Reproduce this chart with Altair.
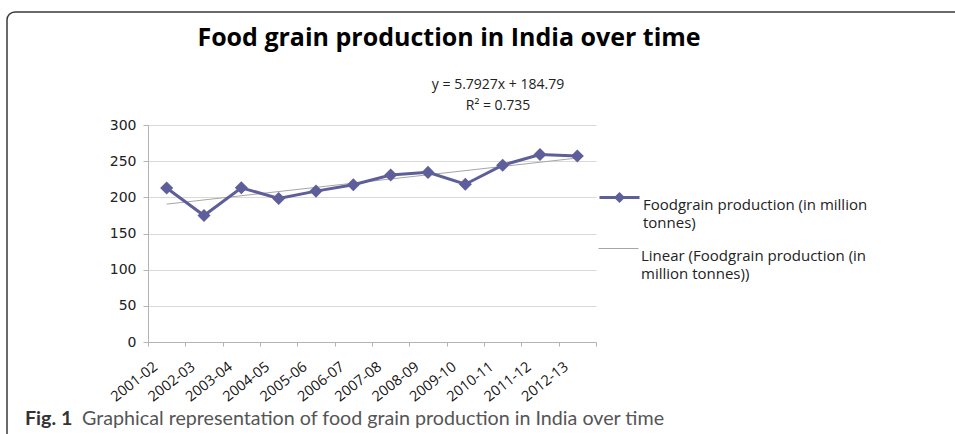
import json
import altair as alt
import pandas as pd

# ---------------- data ----------------
YEARS = ["2001-02", "2002-03", "2003-04", "2004-05", "2005-06", "2006-07",
         "2007-08", "2008-09", "2009-10", "2010-11", "2011-12", "2012-13"]
PRODUCTION = [212.9, 174.8, 213.2, 198.4, 208.6, 217.3,
              230.8, 234.5, 218.1, 244.5, 259.3, 257.1]
Y_TICKS = [0, 50, 100, 150, 200, 250, 300]
SERIES = ["Foodgrain production (in million tonnes)",
          "Linear (Foodgrain production (in million tonnes))"]
LEGEND_LINES = [["Foodgrain production (in million", "tonnes)"],
                ["Linear (Foodgrain production (in", "million tonnes))"]]
TITLE = "Food grain production in India over time"
EQUATION = ["y = 5.7927x + 184.79", "R\u00b2 = 0.735"]
CAPTION_BOLD = "Fig. 1"
CAPTION_TEXT = "Graphical representation of food grain production in India over time"

# ---------------- styling ----------------
W, H = 448, 217
PAD = {"left": 148, "top": 125, "right": 955 - 148 - W, "bottom": 434 - 125 - H}
PURPLE = "#5E5E9A"
TREND = "#A6A6A6"
AXIS = "#B3B3B3"
GRID = "#D9D9D9"

df = pd.DataFrame({
    "year": YEARS,
    "idx": list(range(1, len(YEARS) + 1)),
    "production": PRODUCTION,
    "series": SERIES[0],
})

x_enc = alt.X(
    "year:N", sort=YEARS, bandPosition=0.5,
    scale=alt.Scale(type="band", paddingInner=0, paddingOuter=0),
    axis=alt.Axis(title=None, labelAngle=-38, labelAlign="right", labelBaseline="middle",
                  tickBand="extent", grid=False, domainColor=AXIS, tickColor=AXIS,
                  tickSize=4, labelFont="Open Sans", labelFontSize=14.5,
                  labelColor="#111111", labelPadding=19, labelOffset=-11),
)
y_enc = alt.Y(
    "production:Q",
    scale=alt.Scale(domain=[0, 300], nice=False),
    axis=alt.Axis(title=None, values=Y_TICKS, grid=True, gridColor=GRID,
                  domainColor=AXIS, tickColor=AXIS, tickSize=5,
                  labelFont="DejaVu Sans", labelFontSize=14, labelColor="#222222",
                  labelPadding=7),
)

DIAMOND_LINE = "M-1,0L1,0M0,-0.17L0.17,0L0,0.17L-0.17,0Z"

legend_common = dict(orient="none", legendX=450, title=None, padding=0, symbolSize=1600,
                     labelFont="Open Sans", labelFontSize=15, labelColor="#222222",
                     labelBaseline="top", labelOffset=2, labelLimit=400)

main = alt.Chart(df).mark_line(
    strokeWidth=3,
    point=alt.OverlayMarkDef(shape="diamond", size=170, filled=True),
).encode(
    x=x_enc, y=y_enc,
    color=alt.Color("series:N",
                    scale=alt.Scale(domain=[SERIES[0]], range=[PURPLE]),
                    legend=alt.Legend(legendY=51, symbolType=DIAMOND_LINE,
                                      symbolStrokeWidth=3, symbolFillColor=PURPLE,
                                      symbolStrokeColor=PURPLE,
                                      labelExpr=json.dumps(LEGEND_LINES[0]),
                                      **legend_common)),
)

trend = alt.Chart(df).transform_regression(
    "idx", "production", method="linear", extent=[1, len(YEARS)]
).transform_calculate(
    year=f"{json.dumps(YEARS)}[round(datum.idx) - 1]",
    series=f"'{SERIES[1]}'",
).mark_line(strokeWidth=1).encode(
    x=x_enc, y=y_enc,
    color=alt.Color("series:N",
                    scale=alt.Scale(domain=[SERIES[1]], range=[TREND]),
                    legend=alt.Legend(legendY=103, symbolType="stroke",
                                      symbolStrokeWidth=1, symbolStrokeColor=TREND,
                                      labelExpr=json.dumps(LEGEND_LINES[1]),
                                      **legend_common)),
)

one = pd.DataFrame({"k": [0]})

equation = alt.Chart(one).mark_text(
    font="Open Sans", fontSize=14, color="#222222", align="center",
    baseline="middle", lineHeight=21,
).encode(x=alt.value(350), y=alt.value(-40), text=alt.value(EQUATION))

frame = alt.Chart(one).mark_rect(
    filled=False, stroke="#3A3A3A", strokeWidth=1.5, cornerRadius=8,
).encode(x=alt.value(-141), x2=alt.value(830), y=alt.value(-113), y2=alt.value(340))

cap_bold = alt.Chart(one).mark_text(
    font="Lato", fontSize=19.7, fontWeight="bold", color="#333333",
    align="left", baseline="alphabetic",
).encode(x=alt.value(-123), y=alt.value(300), text=alt.value(CAPTION_BOLD))

cap_text = alt.Chart(one).mark_text(
    font="Lato", fontSize=19.7, color="#555555", align="left", baseline="alphabetic",
).encode(x=alt.value(-66), y=alt.value(300), text=alt.value(CAPTION_TEXT))

chart = alt.layer(frame, trend, main, equation, cap_bold, cap_text).resolve_scale(
    color="independent"
).properties(
    width=W, height=H,
    title=alt.TitleParams(TITLE, font="Open Sans", fontSize=25, fontWeight="bold",
                          color="#000000", anchor="middle", dx=77, dy=40, offset=0),
    autosize=alt.AutoSizeParams(type="none"),
    padding=PAD,
    background="white",
).configure(
    style={"guide-label": {"lineHeight": 18}}
).configure_view(stroke=None)

chart.save("out.html", embed_options={"renderer": "svg", "actions": False})
